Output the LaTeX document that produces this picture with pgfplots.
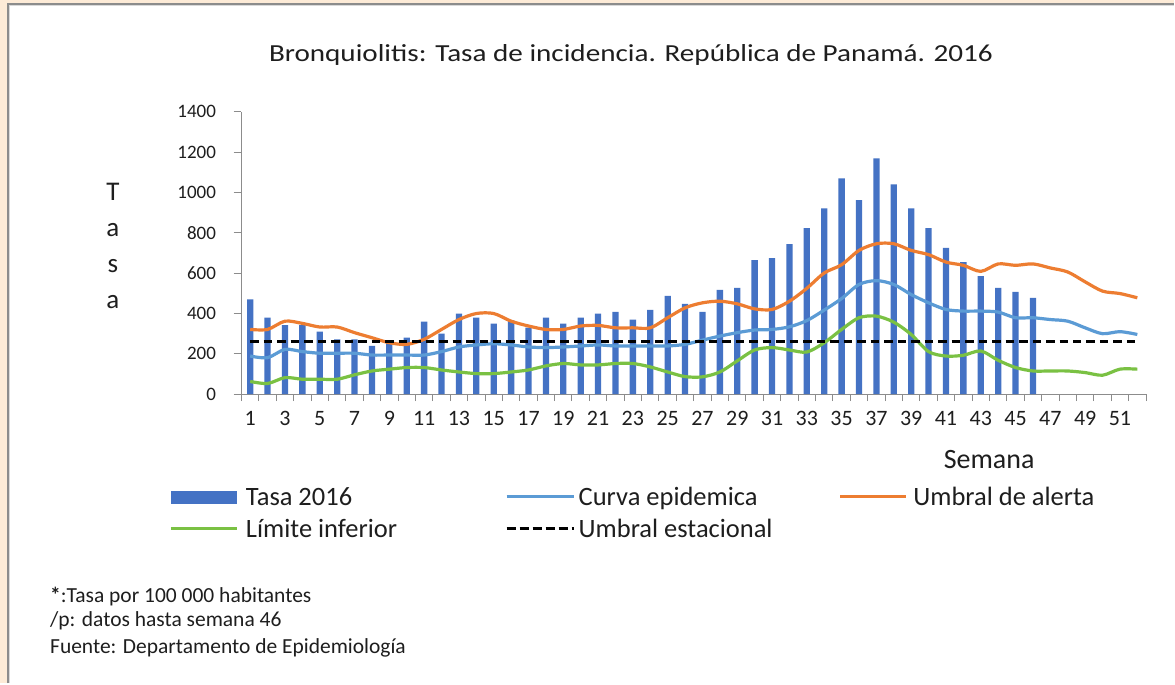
\documentclass[border=0pt]{standalone}
\usepackage{fontspec}
\setmainfont{Carlito}
\newfontfamily\titlefont{Carlito}[FakeStretch=1.19]
\usepackage{pgfplots}
\pgfplotsset{compat=1.18}
\definecolor{barblue}{HTML}{4472C4}
\definecolor{curvblue}{HTML}{5B9BD5}
\definecolor{alertorange}{HTML}{ED7D31}
\definecolor{limgreen}{HTML}{7AC143}
\definecolor{axisgray}{RGB}{140,140,140}
\definecolor{beige}{RGB}{253,235,215}
\definecolor{txt}{RGB}{30,30,30}
\begin{document}
\begin{tikzpicture}[x=1pt,y=1pt]
\fill[white] (0,0) rectangle (1175,684);
\fill[beige] (0,0) rectangle (7,684);
\fill[beige] (0,681) rectangle (1175,684);
\draw[gray!90, line width=2pt] (8,0) -- (8,680) -- (1175,680);
\draw[gray!30, line width=1pt] (9.5,0) -- (9.5,678.5) -- (1175,678.5);
\begin{axis}[
  at={(241.7pt,289.5pt)}, anchor=south west,
  scale only axis, width=905.3pt, height=282.5pt,
  xmin=0.5, xmax=52.5, ymin=0, ymax=1400,
  axis lines*=left,
  axis line style={draw=axisgray, line width=1pt},
  xtick={1,3,...,51},
  minor xtick={0.5,1.5,...,52.5},
  ytick={0,200,...,1400},
  tick align=outside,
  major x tick style={draw=none},
  minor tick style={draw=axisgray, line width=1pt},
  major y tick style={draw=axisgray, line width=1pt},
  major tick length=8pt, minor tick length=7pt,
  xticklabel style={font=\fontsize{22}{22}\selectfont, text=txt, yshift=-6pt},
  yticklabel style={font=\fontsize{19}{19}\selectfont, text=txt, xshift=-14pt},
  /pgf/number format/assume math mode=true,
  /pgf/number format/1000 sep={},
  scaled ticks=false,
  clip=false,
]
\addplot[ybar, bar width=6.3pt, fill=barblue, draw=none] coordinates {
(1,470)(2,380)(3,342)(4,342)(5,310)(6,272)(7,272)(8,240)(9,258)(10,280)
(11,360)(12,300)(13,400)(14,380)(15,350)(16,366)(17,330)(18,380)(19,350)(20,380)
(21,400)(22,408)(23,370)(24,418)(25,488)(26,448)(27,408)(28,517)(29,527)(30,665)
(31,675)(32,744)(33,823)(34,922)(35,1070)(36,962)(37,1169)(38,1041)(39,922)(40,823)
(41,725)(42,655)(43,586)(44,527)(45,507)(46,478)};
\addplot[curvblue, line width=3.2pt, smooth, no marks] coordinates {
(1,189)(2,181)(3,222)(4,211)(5,203)(6,203)(7,203)(8,194)(9,194)(10,194)
(11,194)(12,211)(13,234)(14,244)(15,250)(16,244)(17,234)(18,231)(19,234)(20,239)
(21,244)(22,239)(23,239)(24,239)(25,239)(26,247)(27,268)(28,288)(29,305)(30,318)
(31,321)(32,334)(33,365)(34,417)(35,474)(36,544)(37,563)(38,544)(39,494)(40,453)
(41,420)(42,412)(43,412)(44,407)(45,379)(46,379)(47,370)(48,362)(49,329)(50,300)
(51,310)(52,296)};
\addplot[alertorange, line width=3.2pt, smooth, no marks] coordinates {
(1,321)(2,321)(3,362)(4,351)(5,333)(6,333)(7,305)(8,280)(9,255)(10,247)
(11,272)(12,321)(13,370)(14,400)(15,400)(16,362)(17,338)(18,321)(19,321)(20,338)
(21,341)(22,329)(23,329)(24,329)(25,379)(26,428)(27,453)(28,461)(29,448)(30,423)
(31,420)(32,461)(33,525)(34,601)(35,642)(36,713)(37,746)(38,746)(39,713)(40,692)
(41,655)(42,639)(43,609)(44,646)(45,639)(46,646)(47,626)(48,606)(49,557)(50,511)
(51,499)(52,478)};
\addplot[limgreen, line width=3.2pt, smooth, no marks] coordinates {
(1,63)(2,53)(3,82)(4,74)(5,74)(6,74)(7,96)(8,115)(9,124)(10,132)
(11,132)(12,120)(13,110)(14,102)(15,102)(16,110)(17,120)(18,140)(19,152)(20,145)
(21,145)(22,152)(23,152)(24,135)(25,110)(26,87)(27,86)(28,110)(29,165)(30,219)
(31,231)(32,219)(33,209)(34,255)(35,321)(36,379)(37,387)(38,357)(39,296)(40,211)
(41,189)(42,193)(43,214)(44,168)(45,132)(46,115)(47,115)(48,115)(49,107)(50,94)
(51,124)(52,124)};
\addplot[black, line width=3pt, dash pattern=on 8.5pt off 5pt, no marks] coordinates {
(1,263)(52,263)};
\end{axis}
% title
\node[anchor=base, text=txt, font=\titlefont\fontsize{24.5}{29}\selectfont, inner sep=0pt] at (631.5,622) {Bronquiolitis: Tasa de incidencia. República de Panamá. 2016};
% y label
\begin{scope}[every node/.style={anchor=base, text=txt, inner sep=0pt, font=\fontsize{27}{27}\selectfont}]
\node at (113,483) {T};
\node at (113,447) {a};
\node at (113,411) {s};
\node at (113,375) {a};
\end{scope}
% x label
\node[anchor=base, text=txt, inner sep=0pt, font=\fontsize{28}{28}\selectfont] at (990,215) {Semana};
% legend
\begin{scope}[every node/.style={anchor=base west, text=txt, inner sep=0pt, font=\fontsize{26.5}{26.5}\selectfont}]
\fill[barblue] (171,180) rectangle (237,193);
\node at (246,178) {Tasa 2016};
\draw[curvblue, line width=3.5pt] (507,187) -- (574,187);
\node at (579,178) {Curva epidemica};
\draw[alertorange, line width=3.5pt] (841,187) -- (907,187);
\node at (914,178) {Umbral de alerta};
\draw[limgreen, line width=3.5pt] (171,155) -- (237,155);
\node at (246,146) {Límite inferior};
\draw[black, line width=3pt, dash pattern=on 9pt off 4pt] (507,155) -- (574,155);
\node at (579,146) {Umbral estacional};
\end{scope}
% footnotes
\begin{scope}[every node/.style={anchor=base west, text=txt, inner sep=0pt, font=\fontsize{21.5}{21.5}\selectfont}]
\node at (50,81) {\textbf{*}:Tasa por 100 000 habitantes};
\node at (50,57) {/p: datos hasta semana 46};
\node at (50,30) {Fuente: Departamento de Epidemiología};
\end{scope}
\end{tikzpicture}
\end{document}
